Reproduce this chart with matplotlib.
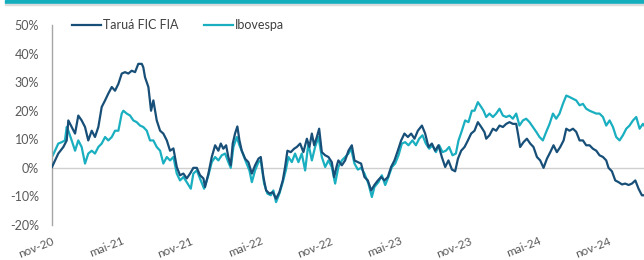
import matplotlib.pyplot as plt
from matplotlib.patches import Rectangle

# months since nov-20, cumulative return (%)
tarua_t = [0.0, 0.26, 0.54, 0.98, 1.27, 1.41, 1.70, 1.99, 2.27, 2.56, 2.85, 3.13, 3.43, 3.71, 4.00,
           4.29, 4.58, 4.86, 5.16, 5.44, 5.73, 6.02, 6.30, 6.59, 6.88, 7.17, 7.45, 7.75, 7.88, 8.03,
           8.32, 8.55, 8.75, 9.04, 9.33, 9.61, 9.91, 10.19, 10.48, 10.77, 11.05, 11.34, 11.63, 11.92,
           12.20, 12.50, 12.78, 13.07, 13.21, 13.50, 13.79, 14.08, 14.36, 14.57, 14.79, 15.03, 15.22,
           15.43, 15.60, 15.80, 16.00, 16.18, 16.38, 16.67, 16.95, 17.25, 17.53, 17.82, 18.02, 18.25,
           18.48, 18.77, 19.06, 19.34, 19.63, 19.92, 20.12, 20.32, 20.61, 20.90, 21.13, 21.42, 21.70,
           22.00, 22.22, 22.43, 22.63, 22.86, 23.06, 23.29, 23.58, 23.86, 24.15, 24.35, 24.59, 24.72,
           25.02, 25.30, 25.59, 25.88, 26.11, 26.40, 26.68, 26.97, 27.26, 27.55, 27.83, 28.13, 28.41,
           28.70, 28.99, 29.27, 29.56, 29.85, 30.14, 30.42, 30.72, 31.00, 31.29, 31.58, 31.93, 32.21,
           32.50, 32.79, 33.07, 33.36, 33.65, 33.94, 34.22, 34.52, 34.80, 35.04, 35.32, 35.61, 35.90,
           36.18, 36.47, 36.76, 37.05, 37.33, 37.48, 37.76, 38.06, 38.34, 38.63, 38.92, 39.21, 39.49,
           39.78, 40.07, 40.22, 40.41, 40.70, 40.99, 41.28, 41.56, 41.86, 42.14, 42.43, 42.72, 43.01,
           43.29, 43.58, 43.87, 44.16, 44.39, 44.67, 44.97, 45.25, 45.54, 45.83, 46.11, 46.40, 46.69,
           46.98, 47.26, 47.56, 47.84, 48.04, 48.33, 48.62, 48.90, 49.20, 49.48, 49.77, 50.06, 50.35,
           50.63, 50.92, 51.12]
tarua = [0.3, 2.6, 5.0, 7.3, 9.6, 16.6, 14.3, 12.0, 18.3, 16.6, 14.3, 9.6, 13.0, 10.8, 14.3,
         21.3, 23.6, 26.0, 28.3, 27.0, 29.4, 33.0, 33.5, 33.0, 34.0, 33.5, 36.4, 36.4, 35.2, 31.7,
         28.3, 20.0, 23.6, 16.6, 13.0, 12.0, 9.6, 6.0, 6.8, 0.3, -2.6, -2.0, -3.7, -2.0,
         0.0, 0.0, -2.6, -3.7, -6.7, -2.0, 3.8, 7.9, 6.0, 8.5, 6.7, 7.9, 3.8,
         0.9, 8.5, 12.0, 14.5, 9.6, 6.0, 3.2, 2.0, -2.0, 0.9, 3.2, 3.8, -3.2,
         -7.9, -9.0, -8.5, -10.8, -8.5, -4.4, 0.3, 6.0, 5.5, 6.7, 7.3, 8.5, 5.5,
         10.2, 7.3, 12.0, 7.9, 10.8, 13.7, 5.5, 4.4, 3.8, 2.0, -3.2, 0.9, 2.6,
         0.9, 2.6, 6.0, 7.9, 2.6, 2.0, 1.5, -3.2, -4.4, -7.9, -6.0, -4.4, -3.2,
         -4.4, -3.2, 0.3, 2.6, 6.0, 9.6, 12.0, 10.8, 12.0, 10.2, 13.0, 14.8, 12.0,
         7.3, 8.5, 6.0, 7.9, 3.8, 0.3, 2.6, -0.6, -1.2, 3.2, 6.0, 7.3, 9.6,
         12.0, 13.0, 16.0, 14.3, 12.5, 10.2, 11.4, 13.7, 13.0, 14.8, 14.3, 15.4, 16.0,
         15.4, 15.4, 12.0, 7.3, 9.0, 10.2, 8.5, 7.3, 3.8, 2.6, 0.0, 3.2, 5.5,
         7.9, 5.5, 7.3, 9.6, 13.7, 13.0, 13.7, 12.6, 9.6, 9.6, 7.9, 7.9, 6.7,
         6.0, 4.4, 3.8, 2.6, 0.0, -1.2, -4.4, -5.0, -5.8, -5.5, -6.0, -5.5, -4.4,
         -7.3, -9.6, -9.6]

ibov_t = [0.0, 0.26, 0.54, 0.84, 1.12, 1.27, 1.41, 1.70, 1.99, 2.27, 2.56, 2.85, 3.13, 3.43, 3.71,
          4.00, 4.29, 4.58, 4.86, 5.16, 5.44, 5.73, 6.02, 6.16, 6.45, 6.74, 7.02, 7.31, 7.60, 7.88,
          8.18, 8.46, 8.75, 9.04, 9.33, 9.61, 9.91, 10.19, 10.48, 10.77, 11.05, 11.34, 11.63, 11.98,
          12.20, 12.50, 12.78, 13.13, 13.50, 13.79, 14.08, 14.36, 14.65, 14.94, 15.22, 15.43, 15.66,
          15.95, 16.18, 16.47, 16.75, 17.04, 17.25, 17.53, 17.82, 18.02, 18.31, 18.59, 18.89, 19.11,
          19.34, 19.63, 19.92, 20.18, 20.41, 20.70, 20.98, 21.27, 21.56, 21.85, 22.13, 22.43, 22.71,
          23.00, 23.29, 23.58, 23.86, 24.15, 24.44, 24.72, 25.02, 25.30, 25.59, 25.82, 26.11, 26.40,
          26.68, 26.97, 27.31, 27.61, 27.83, 28.18, 28.47, 28.76, 29.04, 29.34, 29.62, 29.91, 30.20,
          30.48, 30.77, 31.11, 31.41, 31.69, 31.98, 32.27, 32.56, 32.84, 33.14, 33.42, 33.71, 34.00,
          34.28, 34.57, 34.86, 35.09, 35.38, 35.66, 35.95, 36.24, 36.47, 36.76, 37.05, 37.25, 37.48,
          37.76, 38.06, 38.34, 38.63, 38.92, 39.21, 39.49, 39.78, 40.07, 40.35, 40.65, 40.93, 41.22,
          41.51, 41.80, 42.08, 42.37, 42.66, 42.95, 43.24, 43.52, 43.81, 44.10, 44.39, 44.67, 44.97,
          45.25, 45.54, 45.83, 46.11, 46.40, 46.69, 46.98, 47.26, 47.56, 47.84, 48.13, 48.42, 48.70,
          48.99, 49.28, 49.57, 49.85, 50.15, 50.43, 50.72, 51.01, 51.12]
ibov = [3.8, 6.0, 8.5, 9.0, 9.6, 14.3, 13.0, 9.6, 6.0, 9.6, 7.3, 1.5, 5.0, 6.0, 5.0,
        7.3, 8.5, 10.8, 9.6, 10.8, 13.0, 13.0, 19.0, 20.0, 19.0, 18.3, 16.6, 16.0, 14.8, 14.3,
        13.0, 9.6, 9.6, 7.3, 6.0, 1.5, 3.8, 2.6, 3.8, -2.0, -4.4, -3.2, -5.0, -7.3,
        -2.0, -0.9, -3.8, -7.3, -2.6, 2.0, 3.8, 2.6, 4.4, 5.0, 2.0, 0.0, 7.3,
        10.8, 7.9, 5.0, 2.0, -0.9, -5.0, -0.9, 2.0, 2.6, -5.5, -9.0, -9.6, -7.9,
        -12.0, -9.0, -5.0, -0.9, 3.8, 2.0, 5.0, 2.0, 5.0, -0.9, 8.5, 2.6, 7.3,
        10.8, 3.8, 0.3, 2.6, 0.3, -5.5, 0.3, 2.6, 3.8, 5.0, 6.7, 1.5, -0.6,
        0.0, -2.0, -5.5, -10.2, -6.7, -5.0, -2.6, -6.0, -3.2, 0.3, 1.5, 4.4, 8.5,
        9.0, 7.9, 9.6, 7.9, 10.2, 11.4, 8.5, 6.7, 7.9, 5.5, 7.9, 5.5, 6.0,
        7.3, 4.4, 5.0, 9.6, 13.0, 16.6, 16.0, 20.0, 20.0, 23.0, 21.3, 20.0, 17.8,
        19.0, 17.8, 19.0, 20.7, 18.3, 17.8, 18.3, 17.2, 19.0, 14.8, 16.6, 17.2, 16.0,
        14.3, 12.6, 10.8, 9.6, 12.6, 15.4, 19.0, 17.2, 19.0, 22.4, 25.3, 24.8, 24.2,
        23.6, 21.9, 22.4, 20.7, 20.0, 19.5, 19.0, 19.0, 17.8, 14.8, 16.6, 14.3, 10.8,
        9.6, 11.4, 13.7, 14.8, 16.6, 17.8, 13.7, 15.4, 14.8]

x_ticks = [0, 6, 12, 18, 24, 30, 36, 42, 48]
x_labels = ["nov-20", "mai-21", "nov-21", "mai-22", "nov-22", "mai-23", "nov-23", "mai-24", "nov-24"]
y_ticks = [-20, -10, 0, 10, 20, 30, 40, 50]
y_labels = ["-20%", "-10%", "0%", "10%", "20%", "30%", "40%", "50%"]

dark = "#174f78"
teal = "#19afc0"
grey_txt = "#595959"

plt.rcParams['font.family'] = ['Lato', 'DejaVu Sans']

fig = plt.figure(figsize=(6.44, 2.60), dpi=100)

# header bar
fig.patches.append(Rectangle((5 / 644, 1 - 3 / 260), 1, 3 / 260, transform=fig.transFigure,
                             color="#14aebe", zorder=0))
fig.patches.append(Rectangle((5 / 644, 1 - 5 / 260), 1, 1.5 / 260, transform=fig.transFigure,
                             color="#dcdcdc", zorder=0))

ax = fig.add_axes([52 / 644, 35 / 260, 592 / 644, 200 / 260])
ax.axhline(0, color="#d0d0d0", linewidth=1.0, zorder=1)
ax.plot(ibov_t, ibov, color=teal, linewidth=1.6, label="Ibovespa", zorder=2)
ax.plot(tarua_t, tarua, color=dark, linewidth=1.6, label="Taruá FIC FIA", zorder=3)

ax.set_xlim(0, 51.1)
ax.set_ylim(-20, 50)
ax.set_yticks(y_ticks)
ax.set_yticklabels(y_labels)
ax.set_xticks(x_ticks)
ax.set_xticklabels(x_labels, rotation=22, ha="right", rotation_mode="anchor")

for s in ["top", "right", "bottom"]:
    ax.spines[s].set_visible(False)
ax.spines["left"].set_color("#a6a6a6")
ax.spines["left"].set_linewidth(1.0)
ax.tick_params(axis="y", length=0, pad=9.4, labelsize=9, labelcolor=grey_txt)
ax.tick_params(axis="x", length=0, pad=7.5, labelsize=8.5, labelcolor=grey_txt)

h, l = ax.get_legend_handles_labels()
leg = ax.legend(h[::-1], l[::-1], loc="center left", bbox_to_anchor=(67 / 644, 1 - 25 / 260),
                bbox_transform=fig.transFigure, ncol=2, frameon=False, fontsize=9,
                handlelength=2.3, handletextpad=0.2, columnspacing=2.0, borderaxespad=0)
for t in leg.get_texts():
    t.set_color("#404040")

fig.savefig("out.png", dpi=100)
